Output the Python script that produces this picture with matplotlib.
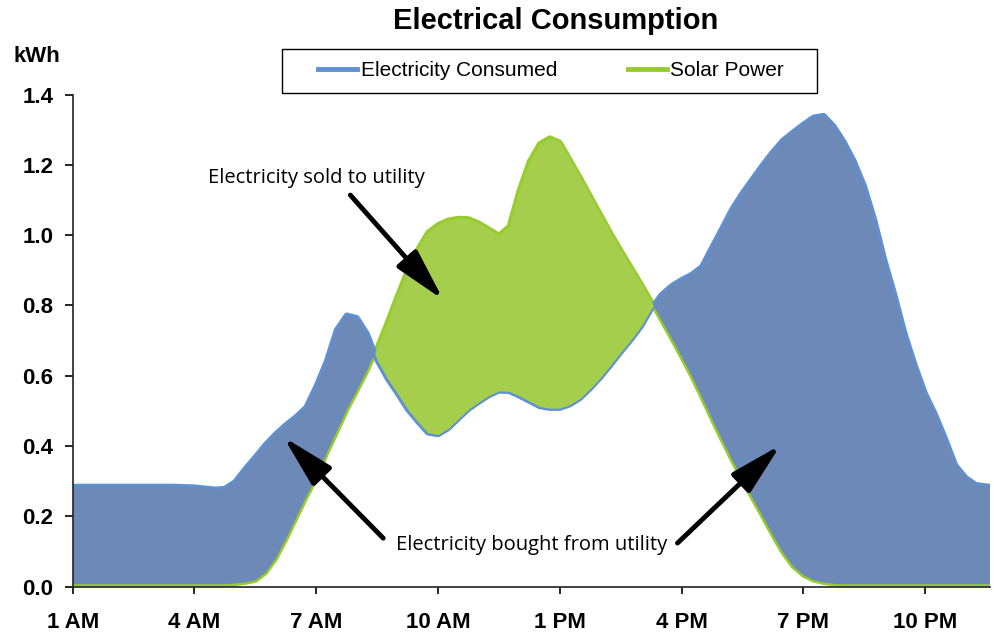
import matplotlib
matplotlib.use("Agg")
import numpy as np
import matplotlib.pyplot as plt
from matplotlib.lines import Line2D
from matplotlib.patches import Rectangle

# hour of day (1 = 1 AM), quarter-hour steps
hours = [1.0, 1.25, 1.5, 1.75, 2.0, 2.25, 2.5, 2.75, 3.0, 3.25,
         3.5, 3.75, 4.0, 4.25, 4.5, 4.75, 5.0, 5.25, 5.5, 5.75,
         6.0, 6.25, 6.5, 6.75, 7.0, 7.25, 7.5, 7.75, 8.0, 8.25,
         8.5, 8.75, 9.0, 9.25, 9.5, 9.75, 10.0, 10.25, 10.5, 10.75,
         11.0, 11.25, 11.5, 11.75, 12.0, 12.25, 12.5, 12.75, 13.0, 13.25,
         13.5, 13.75, 14.0, 14.25, 14.5, 14.75, 15.0, 15.25, 15.5, 15.75,
         16.0, 16.25, 16.5, 16.75, 17.0, 17.25, 17.5, 17.75, 18.0, 18.25,
         18.5, 18.75, 19.0, 19.25, 19.5, 19.75, 20.0, 20.25, 20.5, 20.75,
         21.0, 21.25, 21.5, 21.75, 22.0, 22.25, 22.5, 22.75, 23.0, 23.25,
         23.5, 23.6]

consumed = [0.285, 0.285, 0.285, 0.285, 0.285, 0.285, 0.285, 0.285, 0.285, 0.285,
            0.285, 0.284, 0.283, 0.280, 0.277, 0.279, 0.298, 0.335, 0.369, 0.404,
            0.434, 0.460, 0.483, 0.510, 0.570, 0.640, 0.730, 0.772, 0.765, 0.720,
            0.645, 0.593, 0.550, 0.505, 0.470, 0.438, 0.433, 0.450, 0.478, 0.505,
            0.525, 0.544, 0.557, 0.556, 0.543, 0.528, 0.513, 0.508, 0.508, 0.518,
            0.536, 0.564, 0.595, 0.630, 0.667, 0.702, 0.740, 0.790, 0.830, 0.855,
            0.873, 0.888, 0.910, 0.965, 1.020, 1.075, 1.120, 1.160, 1.200, 1.237,
            1.270, 1.293, 1.315, 1.335, 1.340, 1.310, 1.265, 1.210, 1.140, 1.045,
            0.930, 0.830, 0.720, 0.630, 0.550, 0.490, 0.420, 0.345, 0.310, 0.290,
            0.286, 0.285]

solar = [0.007, 0.007, 0.007, 0.007, 0.007, 0.007, 0.007, 0.007, 0.007, 0.007,
         0.007, 0.007, 0.007, 0.007, 0.007, 0.007, 0.009, 0.012, 0.018, 0.040,
         0.080, 0.135, 0.195, 0.255, 0.310, 0.378, 0.440, 0.503, 0.558, 0.614,
         0.680, 0.752, 0.828, 0.900, 0.960, 1.008, 1.030, 1.043, 1.048, 1.047,
         1.035, 1.018, 1.000, 1.025, 1.128, 1.210, 1.260, 1.277, 1.265, 1.215,
         1.165, 1.112, 1.060, 1.007, 0.958, 0.910, 0.862, 0.812, 0.760, 0.708,
         0.655, 0.600, 0.540, 0.478, 0.418, 0.360, 0.305, 0.252, 0.200, 0.147,
         0.097, 0.058, 0.033, 0.019, 0.012, 0.008, 0.007, 0.007, 0.007, 0.007,
         0.007, 0.007, 0.007, 0.007, 0.007, 0.007, 0.007, 0.007, 0.007, 0.007,
         0.007, 0.007]

tick_hours = [1, 4, 7, 10, 13, 16, 19, 22]
tick_labels = ['1 AM', '4 AM', '7 AM', '10 AM', '1 PM', '4 PM', '7 PM', '10 PM']
y_ticks = [0.0, 0.2, 0.4, 0.6, 0.8, 1.0, 1.2, 1.4]

blue_fill = '#6c89b7'
blue_line = '#5f90d2'
green_fill = '#a4ce4c'
green_line = '#96cc2c'

x = np.array(hours)
c = np.array(consumed)
s = np.array(solar)

fig = plt.figure(figsize=(9.95, 6.35), dpi=100)
ax = fig.add_axes([0.0731, 0.0761, 0.9219, 0.775])

# lines under the fills so only the outer half shows against white
ax.plot(x, s, color=green_line, lw=3.6, zorder=1, solid_capstyle='butt', solid_joinstyle='round')
ax.plot(x, c, color=blue_line, lw=4.0, zorder=1, solid_capstyle='butt', solid_joinstyle='round')
ax.fill_between(x, c, s, where=c >= s, interpolate=True, color=blue_fill, lw=0, zorder=2)
ax.fill_between(x, c, s, where=s >= c, interpolate=True, color=green_fill, lw=0, zorder=2)

ax.set_xlim(1, 23.6)
ax.set_ylim(0, 1.4)
ax.set_xticks(tick_hours)
ax.set_xticklabels(tick_labels, fontfamily='Liberation Sans', fontweight='bold', fontsize=16)
ax.set_yticks(y_ticks)
ax.set_yticklabels(['%.1f' % v for v in y_ticks], fontfamily='Liberation Sans',
                   fontweight='bold', fontsize=16)
ax.tick_params(axis='x', direction='out', length=5, width=1.2, pad=13, colors='black')
ax.tick_params(axis='y', direction='out', length=6, width=1.2, pad=8, colors='black')
for side in ['top', 'right']:
    ax.spines[side].set_visible(False)
for side in ['left', 'bottom']:
    ax.spines[side].set_linewidth(1.2)
    ax.spines[side].set_color('#222222')

fig.text(556 / 995, 1 - 21 / 635, 'Electrical Consumption', ha='center', va='center',
         fontfamily='Liberation Sans', fontweight='bold', fontsize=21)
fig.text(37 / 995, 1 - 56 / 635, 'kWh', ha='center', va='center',
         fontfamily='Liberation Sans', fontweight='bold', fontsize=16)

# legend box
fig.patches.append(Rectangle((282 / 995, 1 - 93 / 635), 535 / 995, 44 / 635,
                             transform=fig.transFigure, facecolor='white',
                             edgecolor='black', lw=1.0, zorder=5))
handles = [Line2D([], [], color=blue_line, lw=3.5), Line2D([], [], color=green_line, lw=3.5)]
leg = fig.legend(handles, ['Electricity Consumed', 'Solar Power'], ncol=2, frameon=False,
                 loc='center', bbox_to_anchor=(551 / 995, 1 - 71 / 635),
                 prop={'family': 'Liberation Sans', 'size': 15},
                 handlelength=1.9, handletextpad=0.15, columnspacing=3.4)
leg.set_zorder(6)

arrow = dict(arrowstyle='-|>,head_length=1.6,head_width=0.4', lw=3.5, color='black',
             mutation_scale=20, shrinkA=0, shrinkB=0)
note_font = {'family': 'Open Sans', 'size': 14.5}

ax.text(7.0, 1.163, 'Electricity sold to utility', ha='center', va='center', fontdict=note_font, zorder=5)
ax.annotate('', xy=(10.13, 0.816), xytext=(7.84, 1.114), arrowprops=arrow, zorder=5)

ax.text(12.3, 0.118, 'Electricity bought from utility', ha='center', va='center', fontdict=note_font, zorder=5)
ax.annotate('', xy=(6.19, 0.426), xytext=(8.65, 0.138), arrowprops=arrow, zorder=5)
ax.annotate('', xy=(18.44, 0.403), xytext=(15.9, 0.124), arrowprops=arrow, zorder=5)

fig.savefig('out.png', dpi=100)
